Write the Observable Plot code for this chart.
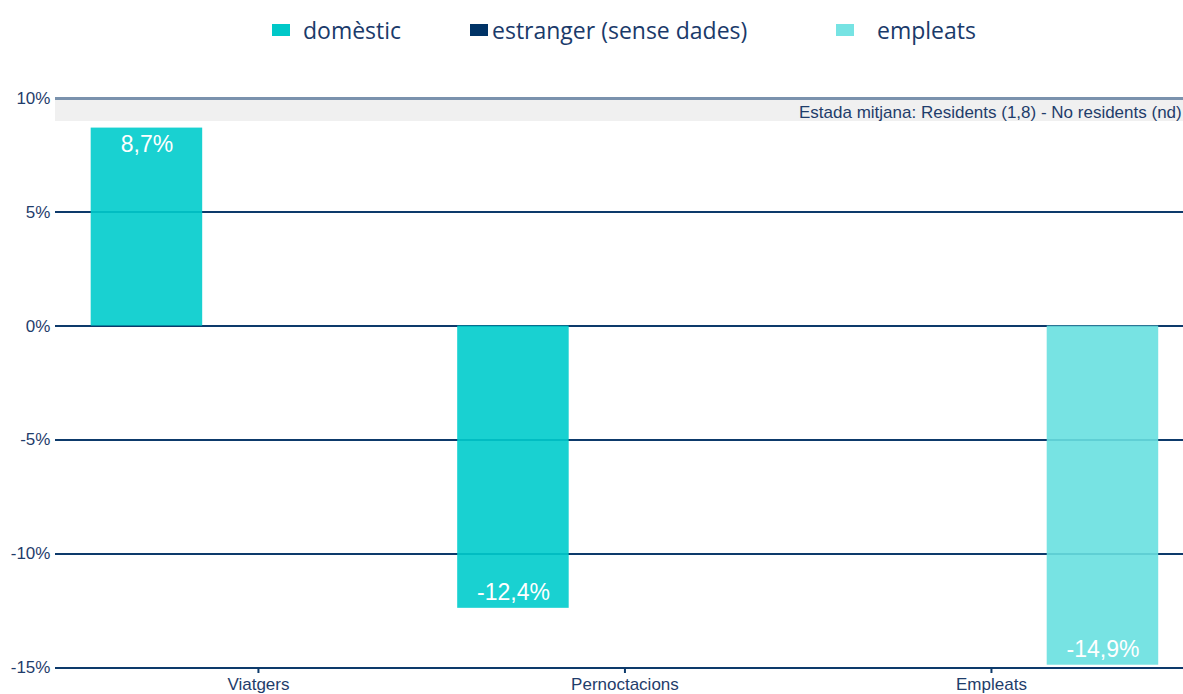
<!DOCTYPE html>
<html>
<head>
<meta charset="utf-8">
<script src="https://cdn.jsdelivr.net/npm/d3@7"></script>
<script src="https://cdn.jsdelivr.net/npm/@observablehq/plot@0.6"></script>
<style>
  body { margin: 0; background: #fff; }
  #legend { position: relative; height: 60px; width: 1183px; font-family: "Open Sans", sans-serif; font-size: 23px; color: #1a3a6a; }
  .item { position: absolute; top: 14px; display: flex; align-items: center; white-space: nowrap; }
  .sw { display: inline-block; width: 18px; height: 12px; }
  svg { display: block; }
</style>
</head>
<body>
<div id="legend"></div>
<div id="chart"></div>
<script>
const categories = ["Viatgers", "Pernoctacions", "Empleats"];
const series = ["domèstic", "estranger (sense dades)", "empleats"];
const domestic = [8.7, -12.4, null];
const foreign = [null, null, null];
const employees = [null, null, -14.9];
const yTicks = [-15, -10, -5, 0, 5, 10];
const colors = ["#00cccc", "#003366", "#68e0e0"];
const legendColors = ["#00c8c8", "#003366", "#76e3e3"];
const annotation = "Estada mitjana: Residents (1,8) - No residents (nd)";

const seriesValues = [domestic, foreign, employees];
const data = [];
categories.forEach((c, i) => {
  series.forEach((s, j) => {
    const v = seriesValues[j][i];
    if (v != null) data.push({category: c, series: s, value: v});
  });
});

// legend
const legendLeft = [272, 470, 836];
const legendGap = [13, 4, 23];
const legend = document.getElementById("legend");
series.forEach((s, j) => {
  const it = document.createElement("div");
  it.className = "item";
  it.style.left = legendLeft[j] + "px";
  it.innerHTML = `<span class="sw" style="background:${legendColors[j]};margin-right:${legendGap[j]}px"></span><span>${s}</span>`;
  legend.appendChild(it);
});

const navy = "#0d3a6b";
const textNavy = "#1f3d6b";
const fmt = v => d3.format(".1f")(v).replace(".", ",").replace("\u2212", "-") + "%";
const gridInset = {insetLeft: -35.75, insetRight: -24.75, shapeRendering: "crispEdges"};

const chart = Plot.plot({
  width: 1183,
  height: 634,
  marginTop: 38,
  marginBottom: 27,
  marginLeft: 55,
  marginRight: 0,
  style: {fontFamily: "'Liberation Sans', Arial, sans-serif", fontSize: "17px", color: textNavy, background: "#fff"},
  fx: {domain: categories, paddingInner: 0.0873, paddingOuter: 0.0825, align: 0.59, round: false, label: null},
  x: {domain: series, padding: 0, round: false, axis: null},
  y: {domain: [-15, 10], ticks: yTicks, label: null},
  color: {domain: series, range: colors},
  marks: [
    Plot.ruleY([10], {...gridInset, stroke: "#f0f0f0", strokeWidth: 22, dy: 11}),
    Plot.ruleY([10], {...gridInset, stroke: "#7a92ad", strokeWidth: 3}),
    Plot.ruleY(yTicks.filter(d => d < 10), {...gridInset, stroke: navy, strokeWidth: 2}),
    Plot.axisY({ticks: yTicks, tickSize: 0, tickPadding: 40.75, tickFormat: d => d + "%", fill: textNavy, fontSize: 17}),
    Plot.axisFx({anchor: "bottom", tickSize: 6, tickPadding: 4, stroke: navy, strokeWidth: 2, fill: textNavy, fontSize: 17, label: null}),
    Plot.barY(data, {fx: "category", x: "series", y: "value", fill: "series", fillOpacity: 0.9}),
    Plot.text(data, {fx: "category", x: "series", y: "value", text: d => fmt(d.value),
      lineAnchor: "top", fill: "white", fontSize: 23, filter: d => d.value >= 0, dy: 8}),
    Plot.text(data, {fx: "category", x: "series", y: "value", text: d => fmt(d.value),
      lineAnchor: "bottom", fill: "white", fontSize: 23, filter: d => d.value < 0, dy: -8}),
    Plot.text([annotation], {facet: "super", frameAnchor: "top-right", textAnchor: "end", lineAnchor: "middle", dy: 14, dx: 23, fill: textNavy, fontSize: 17})
  ]
});
document.getElementById("chart").appendChild(chart);
</script>
</body>
</html>
